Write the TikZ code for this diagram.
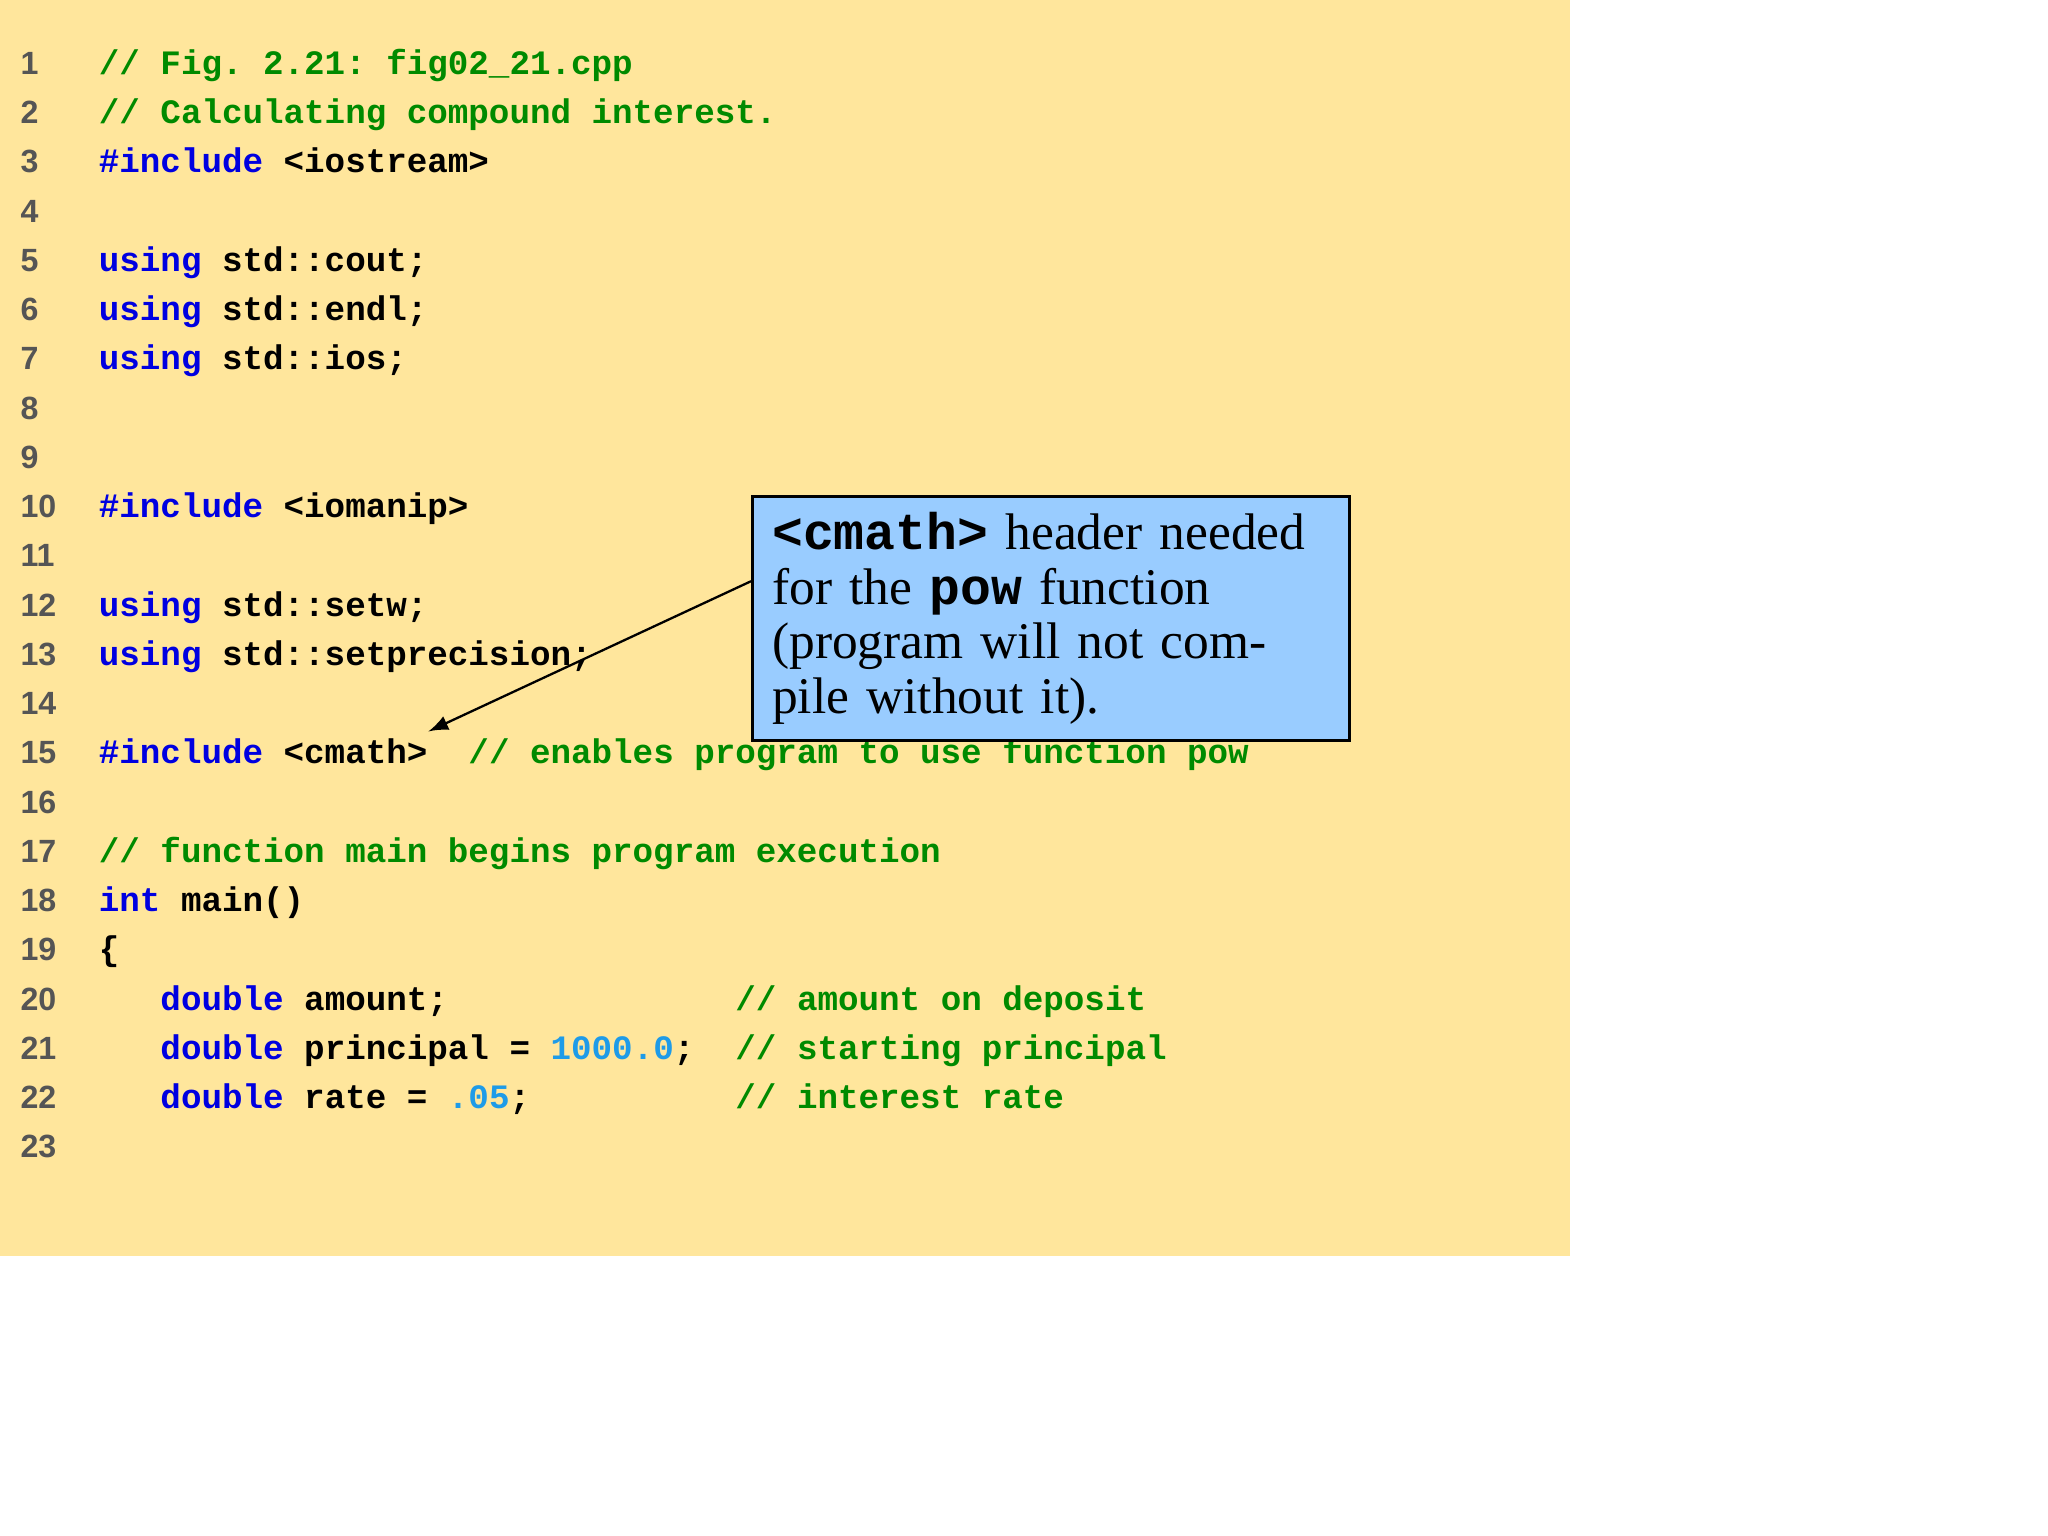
\documentclass[tikz,border=0pt]{standalone}
\usepackage{fontspec}
\setmainfont{Liberation Serif}
\newfontfamily\codef{Liberation Mono}[BoldFont=* Bold]
\newfontfamily\numf{Liberation Sans}[BoldFont=* Bold]
\definecolor{bgy}{HTML}{FFE69C}
\definecolor{kw}{HTML}{0000E0}
\definecolor{cm}{HTML}{008A00}
\definecolor{nm}{HTML}{1E9BE8}
\definecolor{lnc}{HTML}{555555}
\definecolor{cbox}{HTML}{99CCFF}
\newcommand\K[1]{\textcolor{kw}{#1}}
\newcommand\C[1]{\textcolor{cm}{#1}}
\newcommand\N[1]{\textcolor{nm}{#1}}
\newcommand\CL[2]{\node[codeline] (c#1) at (75,{57+(#1-1)*37.7}) {#2};}
\tikzset{codeline/.style={anchor=base west,inner sep=0pt,font=\codef\bfseries\fontsize{7.45}{9}\selectfont},
lnum/.style={anchor=base west,inner sep=0pt,text=lnc,font=\numf\bfseries\fontsize{7}{9}\selectfont}}
\begin{document}
\begin{tikzpicture}[x=0.01cm,y=-0.01cm]
\useasboundingbox (0,0) rectangle (1568,1176);
\fill[white] (0,0) rectangle (1568,1176);
\fill[bgy] (0,0) rectangle (1202,962);
\foreach \i in {1,...,23}{\node[lnum] (n\i) at (15,{57+(\i-1)*37.7}) {\i};}
\CL{1}{\C{//~Fig.~2.21:~fig02\_21.cpp}}
\CL{2}{\C{//~Calculating~compound~interest.}}
\CL{3}{\K{\#include}~<iostream>}
\CL{5}{\K{using}~std::cout;}
\CL{6}{\K{using}~std::endl;}
\CL{7}{\K{using}~std::ios;}
\CL{10}{\K{\#include}~<iomanip>}
\CL{12}{\K{using}~std::setw;}
\CL{13}{\K{using}~std::setprecision;}
\CL{15}{\K{\#include}~<cmath>~~\C{//~enables~program~to~use~function~pow}}
\CL{17}{\C{//~function~main~begins~program~execution}}
\CL{18}{\K{int}~main()}
\CL{19}{\{}
\CL{20}{~~~\K{double}~amount;~~~~~~~~~~~~~~\C{//~amount~on~deposit}}
\CL{21}{~~~\K{double}~principal~=~\N{1000.0};~~\C{//~starting~principal}}
\CL{22}{~~~\K{double}~rate~=~\N{.05};~~~~~~~~~~\C{//~interest~rate}}
\node[draw=black,line width=0.7pt,fill=cbox,anchor=north west,minimum width=4.57cm,minimum height=1.41cm,
  text width=4.27cm,align=left,inner xsep=0.15cm,inner ysep=0.12cm,
  font=\fontsize{11.2}{11.9}\selectfont] (box) at (575,379)
  {{\codef\bfseries <cmath>} header needed for the {\codef\bfseries pow} function (program will not compile without it).};
\coordinate (tip) at (328,560);
\draw[-latex,line width=0.5pt] (box.west |- 0,445) -- (tip);
\end{tikzpicture}
\end{document}
